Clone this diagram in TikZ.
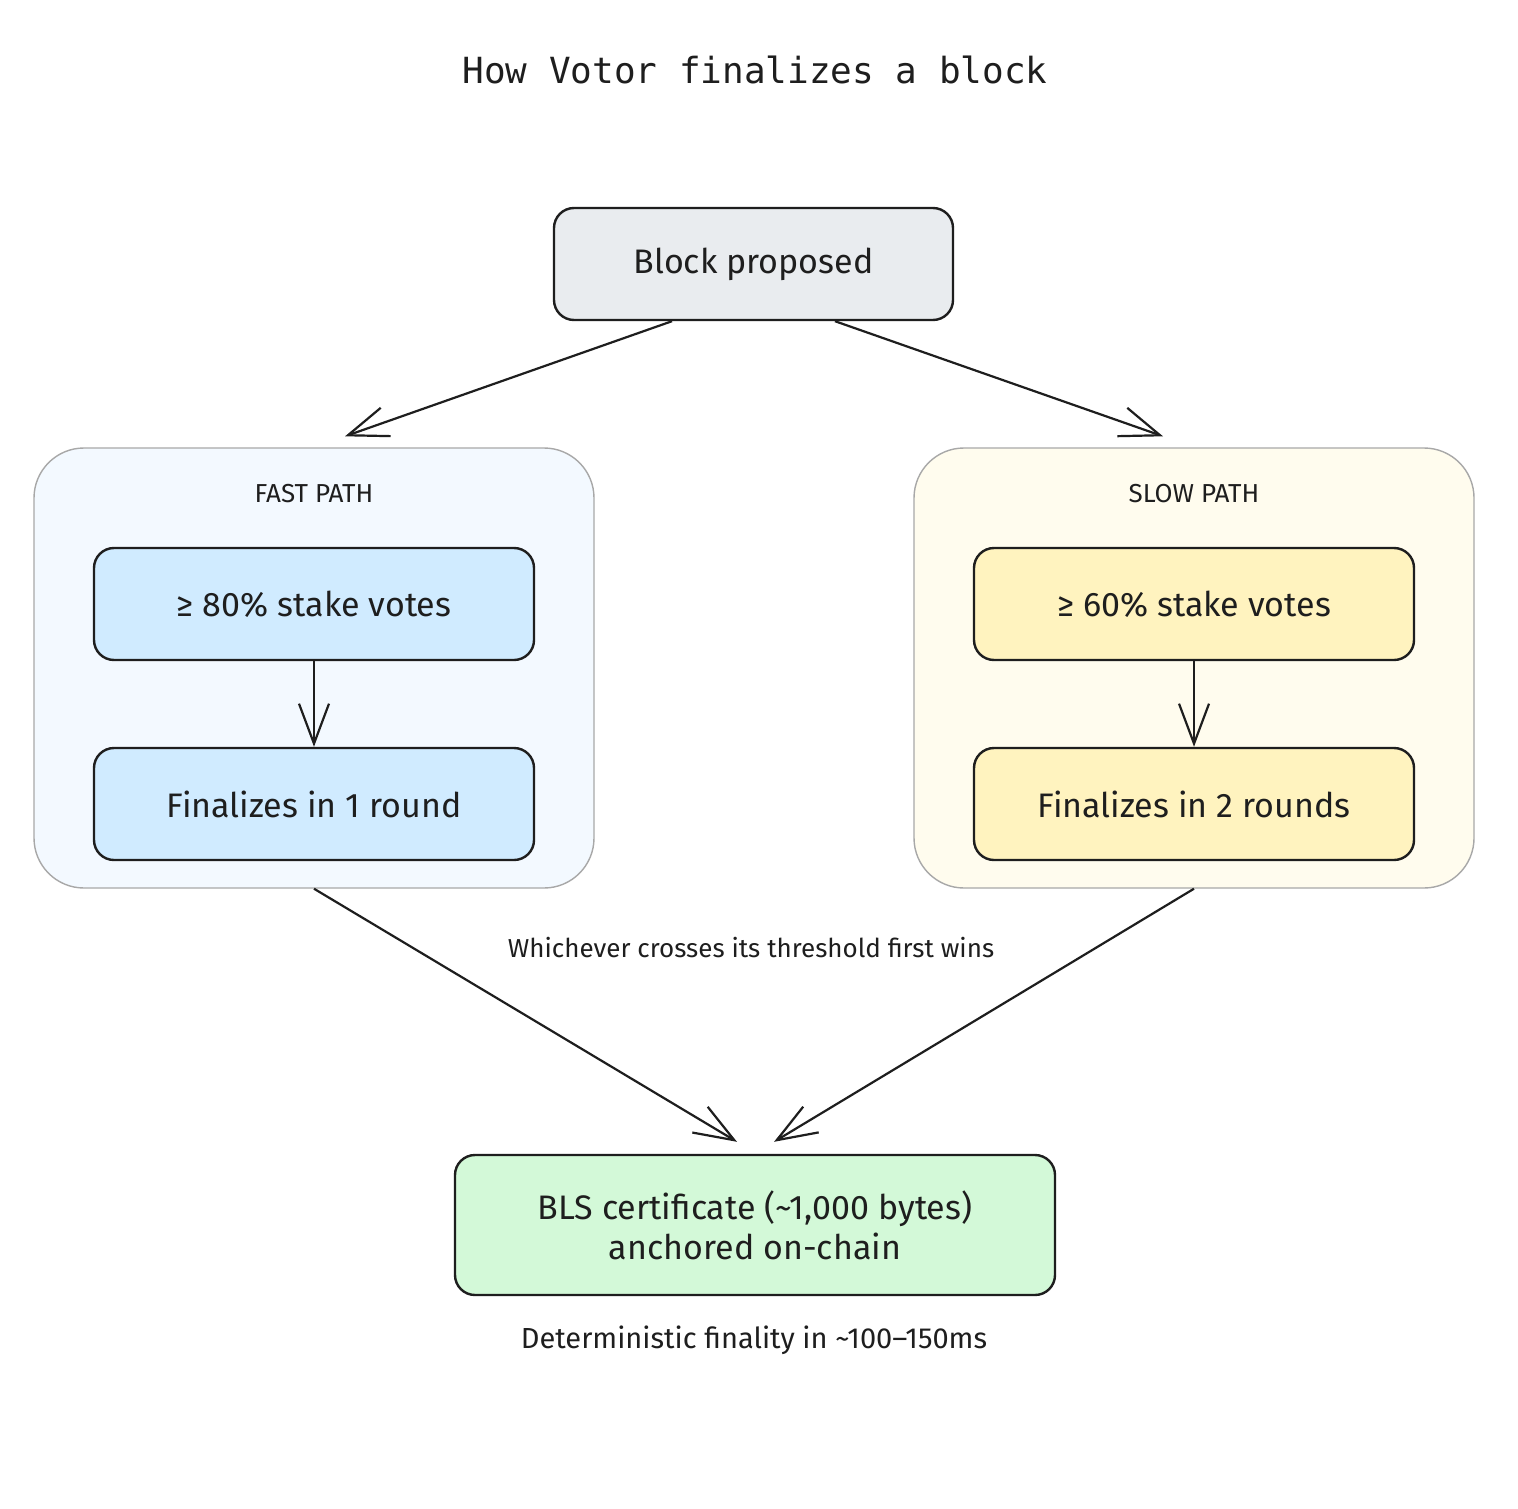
\documentclass[tikz,border=0pt]{standalone}
\usepackage{fontspec}
\setmainfont{Fira Sans}
\newfontfamily\titlefont{DejaVu Sans Mono}
\usetikzlibrary{arrows.meta,positioning}

\definecolor{ink}{HTML}{1E1E1E}
\definecolor{grpline}{HTML}{A8A8A8}
\definecolor{greyfill}{HTML}{E9ECEF}
\definecolor{bluefill}{HTML}{D0EBFF}
\definecolor{yellowfill}{HTML}{FFF3BF}
\definecolor{greenfill}{HTML}{D3F9D8}
\definecolor{bluegrp}{HTML}{F3F9FF}
\definecolor{yellowgrp}{HTML}{FFFCEE}

\begin{document}
\begin{tikzpicture}[
   x=0.5pt, y=-0.5pt, text=ink,
   box/.style={draw=ink, line width=1.2pt, rounded corners=10pt, align=center,
      minimum width=220pt, minimum height=56pt, font=\fontsize{17}{20}\selectfont},
   grp/.style={draw=grpline, line width=0.7pt, rounded corners=25pt,
      minimum width=280pt, minimum height=220pt},
   grplabel/.style={font=\fontsize{13}{15}\selectfont},
   note/.style={font=\fontsize{13}{15}\selectfont},
   arr/.style={-{Straight Barb[length=20pt,width=15pt]}, line width=1.1pt, draw=ink}]
   \useasboundingbox[fill=white] (0,0) rectangle (1518,1508);
   \node[font=\titlefont\fontsize{18}{22}\selectfont] (title) at (755,70) {How Votor finalizes a block};
   \node[box, fill=greyfill, minimum width=199.5pt] (propose) at (753.5,264) {Block proposed};

   % fast path
   \node[grp, fill=bluegrp] (fastgrp) at (314,668) {};
   \node[grplabel] (fastlbl) at (314,494) {FAST PATH};
   \node[box, fill=bluefill] (fastvote) at (314,604) {≥ 80\% stake votes};
   \node[box, fill=bluefill, below=42.8pt of fastvote] (fastfin) {Finalizes in 1 round};
   \draw[arr] (fastvote) -- (fastfin);

   % slow path
   \node[grp, fill=yellowgrp] (slowgrp) at (1194,668) {};
   \node[grplabel] (slowlbl) at (1194,494) {SLOW PATH};
   \node[box, fill=yellowfill] (slowvote) at (1194,604) {≥ 60\% stake votes};
   \node[box, fill=yellowfill, below=42.8pt of slowvote] (slowfin) {Finalizes in 2 rounds};
   \draw[arr] (slowvote) -- (slowfin);

   \node[box, fill=greenfill, minimum width=300pt, minimum height=70pt] (bls) at (755,1225)
      {BLS certificate (\textasciitilde1,000 bytes)\\anchored on-chain};
   \node[note] (wins) at (751,948) {Whichever crosses its threshold first wins};
   \node[note, font=\fontsize{14.5}{17}\selectfont] (finality) at (754,1340) {Deterministic finality in \textasciitilde100--150ms};

   \draw[arr] ([xshift=-40.75pt]propose.south) -- ([xshift=15.5pt,yshift=5.5pt]fastgrp.north);
   \draw[arr] ([xshift=40.75pt]propose.south) -- ([xshift=-15.5pt,yshift=5.5pt]slowgrp.north);
   \draw[arr] (fastgrp.south) -- ([xshift=-9pt,yshift=6pt]bls.north);
   \draw[arr] (slowgrp.south) -- ([xshift=9.5pt,yshift=6pt]bls.north);
\end{tikzpicture}
\end{document}
